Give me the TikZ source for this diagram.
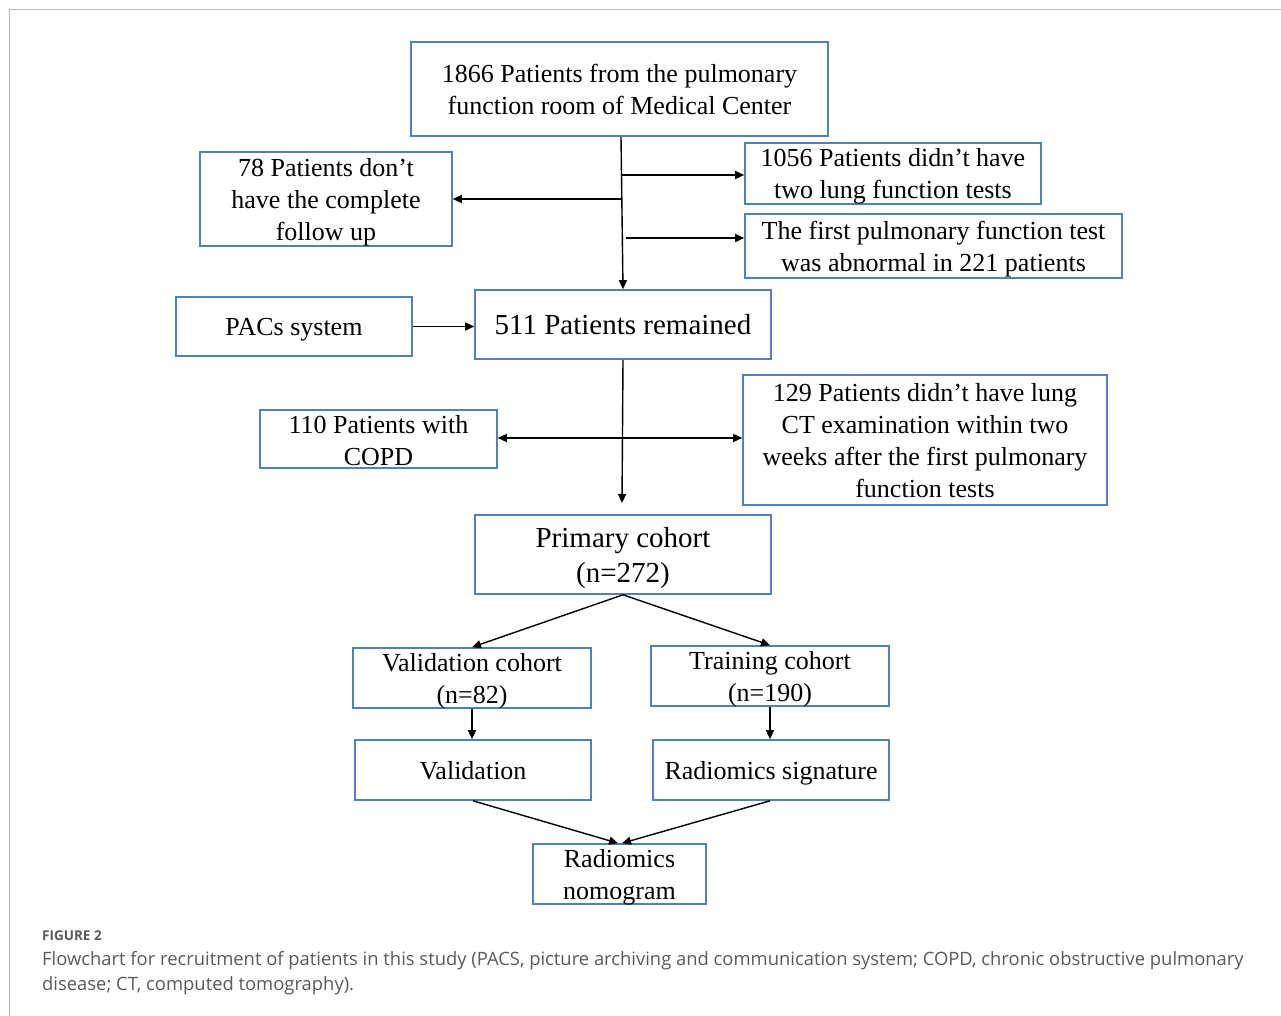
\documentclass[tikz,border=0pt]{standalone}
\usepackage{fontspec}
\setmainfont{Liberation Serif}
\newfontfamily\capfont{Open Sans}
\usetikzlibrary{arrows.meta}
\definecolor{boxblue}{HTML}{4F81BD}
\definecolor{capgray}{HTML}{5A5A5A}
\definecolor{framegray}{HTML}{BBBBBB}
\begin{document}
\begin{tikzpicture}[x=1pt,y=-1pt,
  box/.style={draw=boxblue,line width=1.6pt,inner sep=0pt,align=center,text depth=0pt,
    font=\fontsize{26}{32}\selectfont},
  bigbox/.style={box,font=\fontsize{29}{35}\selectfont},
  arr/.style={line width=1.4pt,-{Triangle[length=9pt,width=8pt]}},
  darr/.style={line width=1.4pt,{Triangle[length=9pt,width=8pt]}-{Triangle[length=9pt,width=8pt]}},
  ln/.style={line width=1.4pt}]
\useasboundingbox (0,0) rectangle (1281,1016);
\fill[white] (0,0) rectangle (1281,1016);
\draw[framegray,line width=1.5pt] (9.5,1016) -- (9.5,9.5) -- (1281,9.5);

\node[box,minimum width=417pt,minimum height=94pt] (top) at (619.5,89) {1866 Patients from the pulmonary\\function room of Medical Center};
\node[box,minimum width=252pt,minimum height=94pt] (n78) at (326,199) {78 Patients don’t\\have the complete\\follow up};
\node[box,minimum width=296pt,minimum height=61pt] (n1056) at (893,173.5) {1056 Patients didn’t have\\two lung function tests};
\node[box,minimum width=377pt,minimum height=64pt] (nfirst) at (933.5,246) {The first pulmonary function test\\was abnormal in 221 patients};
\node[box,minimum width=236pt,minimum height=59pt] (pacs) at (294,326.5) {PACs system};
\node[bigbox,minimum width=296pt,minimum height=69pt] (rem) at (623,324.5) {511 Patients remained};
\node[box,minimum width=237pt,minimum height=58pt] (copd) at (378.5,439) {\raisebox{-2pt}{110 Patients with}\\\raisebox{-2pt}{COPD}};
\node[box,minimum width=364pt,minimum height=130pt] (n129) at (925,440) {129 Patients didn’t have lung\\CT examination within two\\weeks after the first pulmonary\\function tests};
\node[bigbox,minimum width=296pt,minimum height=79pt] (prim) at (623,554.5) {Primary cohort\\(n=272)};
\node[box,minimum width=238pt,minimum height=60pt] (valc) at (472,678) {Validation cohort\\(n=82)};
\node[box,minimum width=238pt,minimum height=60pt] (trc) at (770,676) {Training cohort\\(n=190)};
\node[box,minimum width=236pt,minimum height=60pt] (val) at (473,770) {Validation};
\node[box,minimum width=236pt,minimum height=60pt] (rs) at (771,770) {Radiomics signature};
\node[box,minimum width=173pt,minimum height=60pt] (nomo) at (619.5,874) {Radiomics\\nomogram};

\coordinate (b1) at (621.5,175);
\coordinate (b2) at (622,199);
\coordinate (b3) at (626,238);
\draw[arr] (top.south -| 621,0) -- (rem.north);
\draw[arr] (b1) -- (n1056.west |- b1);
\draw[arr] (b2) -- (n78.east |- b2);
\draw[arr] (b3) -- (nfirst.west |- b3);
\draw[arr] (pacs.east) -- (rem.west |- pacs.east);
\coordinate (pe) at (622,503);
\draw[arr] (rem.south) -- (pe);
\draw[darr] (copd.east |- 0,438) -- (n129.west |- 0,438);
\draw[arr] (prim.south) -- (valc.north);
\draw[arr] (prim.south) -- (trc.north);
\draw[arr] (valc.south) -- (val.north -| 472,0);
\draw[arr] (trc.south) -- (rs.north -| 770,0);
\draw[arr] (val.south) -- (nomo.north -| 618,0);
\draw[arr] (rs.south -| 770,0) -- (nomo.north -| 622,0);

\node[anchor=base west,inner sep=0pt,text=capgray,font=\capfont\bfseries\fontsize{13.5}{17}\selectfont] (figlab) at (42,940) {FIGURE 2};
\node[anchor=base west,inner sep=0pt,text=capgray,align=left,font=\capfont\fontsize{18.4}{25}\selectfont] (cap) at (42,990) {Flowchart for recruitment of patients in this study (PACS, picture archiving and communication system; COPD, chronic obstructive pulmonary\\disease; CT, computed tomography).};
\end{tikzpicture}
\end{document}
